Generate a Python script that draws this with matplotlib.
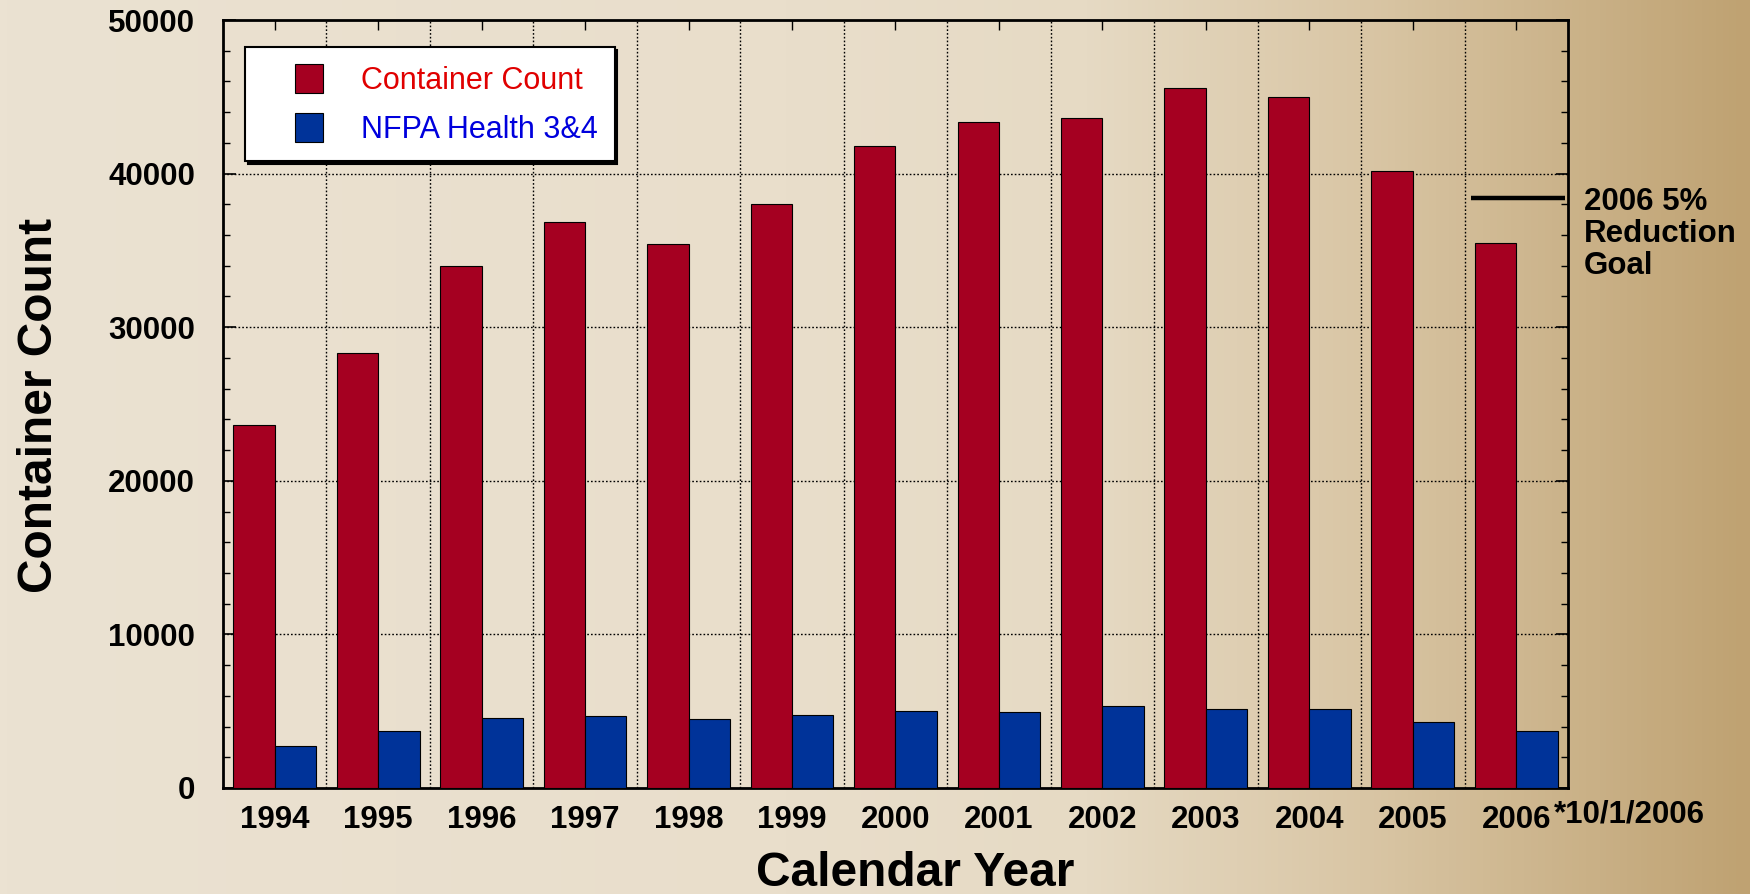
import matplotlib
matplotlib.use("Agg")
import matplotlib.pyplot as plt
import numpy as np
from matplotlib.colors import LinearSegmentedColormap
from matplotlib.container import BarContainer
from matplotlib.legend_handler import HandlerPatch
from matplotlib.patches import Rectangle
from matplotlib.ticker import MultipleLocator

years = ["1994", "1995", "1996", "1997", "1998", "1999", "2000",
         "2001", "2002", "2003", "2004", "2005", "2006"]
container_count = [23650, 28350, 34000, 36850, 35400, 38000, 41800,
                   43350, 43600, 45600, 45000, 40200, 35450]
nfpa_health = [2750, 3680, 4580, 4700, 4490, 4780, 5000,
               4950, 5350, 5170, 5170, 4290, 3690]
goal_2006 = 38400

RED = "#A50021"
BLUE = "#003399"

plt.rcParams["font.family"] = ["Liberation Sans", "DejaVu Sans"]

fig = plt.figure(figsize=(17.5, 8.94), dpi=100)

# beige -> tan background, darker to the right
bg_ax = fig.add_axes([0, 0, 1, 1], zorder=-10)
bg_ax.axis("off")
cmap = LinearSegmentedColormap.from_list(
    "bg", [(0.0, "#EBE2D2"), (0.45, "#E9DECB"), (0.62, "#E6DAC4"),
           (0.78, "#D9C6A5"), (1.0, "#BFA272")])
grad = np.linspace(0, 1, 512).reshape(1, -1)
bg_ax.imshow(grad, cmap=cmap, aspect="auto", extent=[0, 1, 0, 1])

ax = fig.add_axes([0.1274, 0.1186, 0.7686, 0.859])
ax.set_facecolor("none")

x = np.arange(len(years))
w = 0.4
ax.bar(x - w / 2, container_count, w, color=RED, edgecolor="black",
       linewidth=0.8, label="Container Count", zorder=3)
ax.bar(x + w / 2, nfpa_health, w, color=BLUE, edgecolor="black",
       linewidth=0.8, label="NFPA Health 3&4", zorder=3)

# 2006 reduction goal marker
ax.hlines(goal_2006, 11.56, 12.47, color="black", linewidth=3.2, zorder=4)
ax.text(1.012, goal_2006 - 2350, "2006 5%\nReduction\nGoal",
        transform=ax.get_yaxis_transform(), ha="left", va="center",
        fontsize=22.5, fontweight="bold", linespacing=1.08)

ax.set_xlim(-0.5, len(years) - 0.5)
ax.set_ylim(0, 50000)

# dotted grid: horizontal at major y ticks, vertical between year groups
for yv in range(10000, 50000, 10000):
    ax.axhline(yv, color="black", linestyle=(0, (1.2, 1.5)), linewidth=1, zorder=1)
for xv in x[:-1] + 0.5:
    ax.axvline(xv, color="black", linestyle=(0, (1.2, 1.5)), linewidth=1, zorder=1)

ax.set_xticks(x)
ax.set_xticklabels(years)
ax.yaxis.set_major_locator(MultipleLocator(10000))
ax.yaxis.set_minor_locator(MultipleLocator(2000))
ax.tick_params(axis="y", which="major", direction="in", length=9, width=1.2,
               right=True, pad=20, labelsize=22.5)
ax.tick_params(axis="y", which="minor", direction="in", length=5, width=1,
               right=True)
ax.tick_params(axis="x", which="major", direction="in", length=7, width=1,
               top=True, pad=12, labelsize=22.5)
for lab in ax.get_xticklabels() + ax.get_yticklabels():
    lab.set_fontweight("bold")

for sp in ax.spines.values():
    sp.set_linewidth(2)
    sp.set_color("black")

fig.text(0.0223, 0.546, "Container Count", rotation=90, ha="center",
         va="center", fontsize=34.5, fontweight="bold")
fig.text(0.523, 0.0085, "Calendar Year", ha="center", va="baseline",
         fontsize=34.5, fontweight="bold")
fig.text(0.888, 0.0805, "*10/1/2006", fontsize=22.5, fontweight="bold",
         ha="left", va="baseline")


def square_handle(legend, orig_handle, xdescent, ydescent, width, height, fontsize):
    # small square pushed to the right part of the handle box
    side = 0.92 * fontsize
    return Rectangle((width - side - xdescent, -ydescent), side, height)


def from_first_bar(handle, orig):
    handle.update_from(orig.patches[0])


bar_handler = HandlerPatch(patch_func=square_handle, update_func=from_first_bar)
leg = ax.legend(loc="upper left", bbox_to_anchor=(0.0164, 0.965),
                handlelength=2.0, handleheight=1.1, handletextpad=1.25,
                borderpad=0.55, labelspacing=0.55, borderaxespad=0,
                fancybox=False, framealpha=1, edgecolor="black",
                prop={"size": 22}, shadow={"color": "black", "alpha": 1},
                handler_map={BarContainer: bar_handler})
leg.get_frame().set_linewidth(1.5)
leg.set_zorder(6)
for txt, col in zip(leg.get_texts(), ["#E00000", "#0000DD"]):
    txt.set_color(col)

fig.savefig("out.png", dpi=100)
